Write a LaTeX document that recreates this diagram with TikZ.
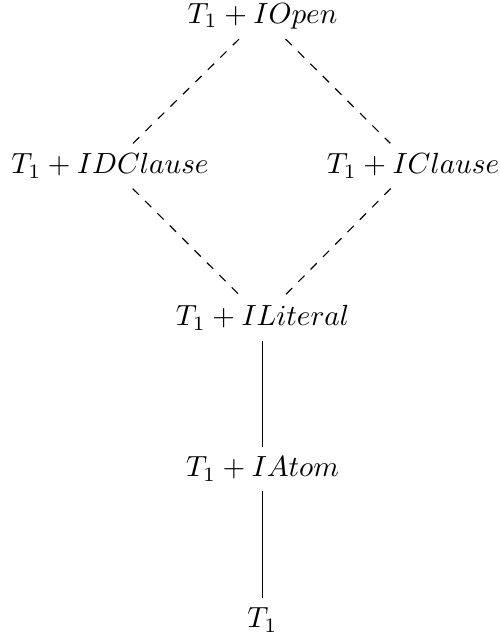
\documentclass[tikz,border=0pt]{standalone}
\begin{document}
\begin{tikzpicture}[x=0.343pt,y=-0.343pt,
  lvl/.style={inner sep=0.333em},
  dashedge/.style={dashed},
  solidedge/.style={}]
\useasboundingbox (0,0) rectangle (500,639);
\node[lvl] (open) at (262.5,16) {$T_1+IOpen$};
\node[lvl] (dclause) at (110,166) {$T_1+IDClause$};
\node[lvl] (clause) at (413,166) {$T_1+IClause$};
\node[lvl] (literal) at (262.5,318) {$T_1+ILiteral$};
\node[lvl] (atom) at (262.5,469) {$T_1+IAtom$};
\node[lvl] (t) at (262.5,620) {$T_1$};
\draw[dashedge] (open) -- (dclause);
\draw[dashedge] (open) -- (clause);
\draw[dashedge] (dclause) -- (literal);
\draw[dashedge] (clause) -- (literal);
\draw[solidedge] (literal) -- (atom);
\draw[solidedge] (atom) -- (t);
\end{tikzpicture}
\end{document}
